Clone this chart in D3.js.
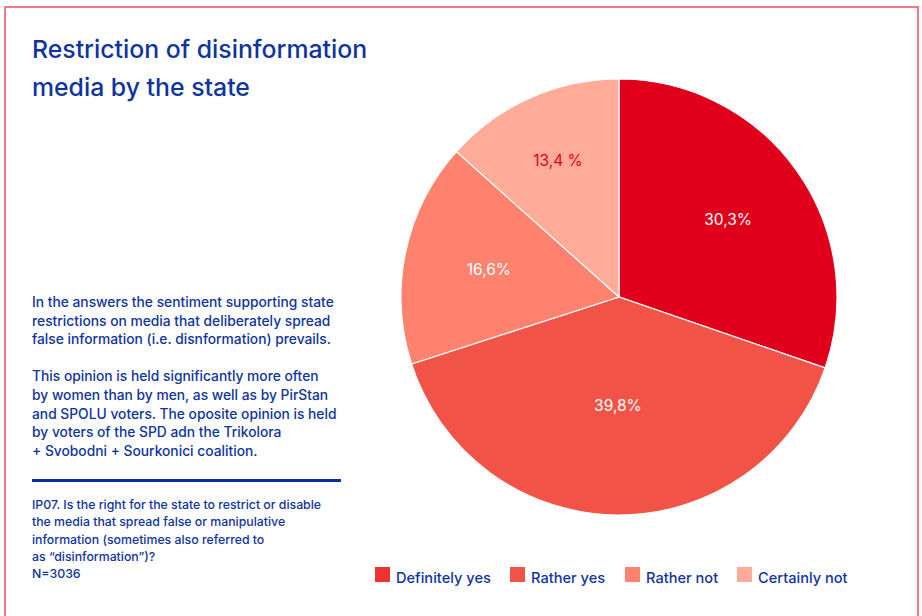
<!DOCTYPE html>
<html>
<head>
<meta charset="utf-8">
<script src="https://cdn.jsdelivr.net/npm/d3@7/dist/d3.min.js"></script>
<style>
  html, body { margin: 0; padding: 0; background: #fff; }
  svg { display: block; font-family: Inter, "Noto Sans", sans-serif; }
</style>
</head>
<body>
<svg id="chart" width="922" height="616"></svg>
<script>
// Survey answers and their shares (%)
const categories = ["Definitely yes", "Rather yes", "Rather not", "Certainly not"];
const shares = [30.3, 39.8, 16.6, 13.4];
const shareLabels = ["30,3%", "39,8%", "16,6%", "13,4 %"];
const sliceColors = ["#e0001b", "#f15446", "#ff826f", "#ffab9a"];
const legendColors = ["#ee3333", "#f15446", "#ff826f", "#ffab9a"];

const titleLines = ["Restriction of disinformation", "media by the state"];
const bodyLines = [
  "In the answers the sentiment supporting state",
  "restrictions on media that deliberately spread",
  "false information (i.e. disnformation) prevails.",
  "",
  "This opinion is held significantly more often",
  "by women than by men, as well as by PirStan",
  "and SPOLU voters. The oposite opinion is held",
  "by voters of the SPD adn the Trikolora",
  "+ Svobodni + Sourkonici coalition."
];
const noteLines = [
  "IP07. Is the right for the state to restrict or disable",
  "the media that spread false or manipulative",
  "information (sometimes also referred to",
  "as \u201cdisinformation\u201d)?",
  "N=3036"
];

const blue = "#0f34a0";
const svg = d3.select("#chart");

// Frame (open at the bottom)
svg.append("path")
  .attr("d", "M5,616 V7 H918 V616")
  .attr("fill", "none")
  .attr("stroke", "#f07a86")
  .attr("stroke-width", 2);

// Title
svg.append("g").selectAll("text").data(titleLines).join("text")
  .attr("x", 32).attr("y", (d, i) => 58 + i * 38)
  .attr("fill", blue)
  .attr("font-size", 24.8)
  .attr("font-weight", 500)
  .text(d => d);

// Commentary
svg.append("g").selectAll("text").data(bodyLines).join("text")
  .attr("x", 32).attr("y", (d, i) => 307 + i * 18.6)
  .attr("fill", blue)
  .attr("font-size", 13.8)
  .attr("font-weight", 500)
  .text(d => d);

svg.append("line")
  .attr("x1", 32).attr("x2", 341)
  .attr("y1", 480.5).attr("y2", 480.5)
  .attr("stroke", "#0a2e9e")
  .attr("stroke-width", 3);

svg.append("g").selectAll("text").data(noteLines).join("text")
  .attr("x", 32).attr("y", (d, i) => 509 + i * 17.3)
  .attr("fill", blue)
  .attr("font-size", 12.3)
  .attr("font-weight", 500)
  .text(d => d);

// Pie
const cx = 619, cy = 297, radius = 218;
const pie = d3.pie().sort(null).value(d => d)(shares);
const arc = d3.arc().innerRadius(0).outerRadius(radius);
const gPie = svg.append("g").attr("transform", `translate(${cx},${cy})`);

gPie.selectAll("path").data(pie).join("path")
  .attr("d", arc)
  .attr("fill", (d, i) => sliceColors[i])
  .attr("stroke", "#fff")
  .attr("stroke-width", 1.2);

// Label placement: fraction of the radius along each slice's bisector
const labelRadius = [0.615, 0.5, 0.61, 0.685];
gPie.selectAll("text").data(pie).join("text")
  .attr("transform", (d, i) => {
    const r = radius * labelRadius[i];
    const a = (d.startAngle + d.endAngle) / 2;
    return `translate(${r * Math.sin(a)},${-r * Math.cos(a)})`;
  })
  .attr("text-anchor", "middle")
  .attr("dy", "0.35em")
  .attr("font-size", 15.5)
  .attr("fill", (d, i) => i === 3 ? "#e0001b" : "#fff")
  .text((d, i) => shareLabels[i]);

// Legend
const legendX = [375, 510, 625, 737];
const gLeg = svg.append("g");
const items = gLeg.selectAll("g").data(categories).join("g")
  .attr("transform", (d, i) => `translate(${legendX[i]},567)`);
items.append("rect")
  .attr("width", 15).attr("height", 15)
  .attr("fill", (d, i) => legendColors[i]);
items.append("text")
  .attr("x", 21).attr("y", 15.5)
  .attr("fill", blue)
  .attr("font-size", 14.6)
  .attr("font-weight", 500)
  .text(d => d);
</script>
</body>
</html>
